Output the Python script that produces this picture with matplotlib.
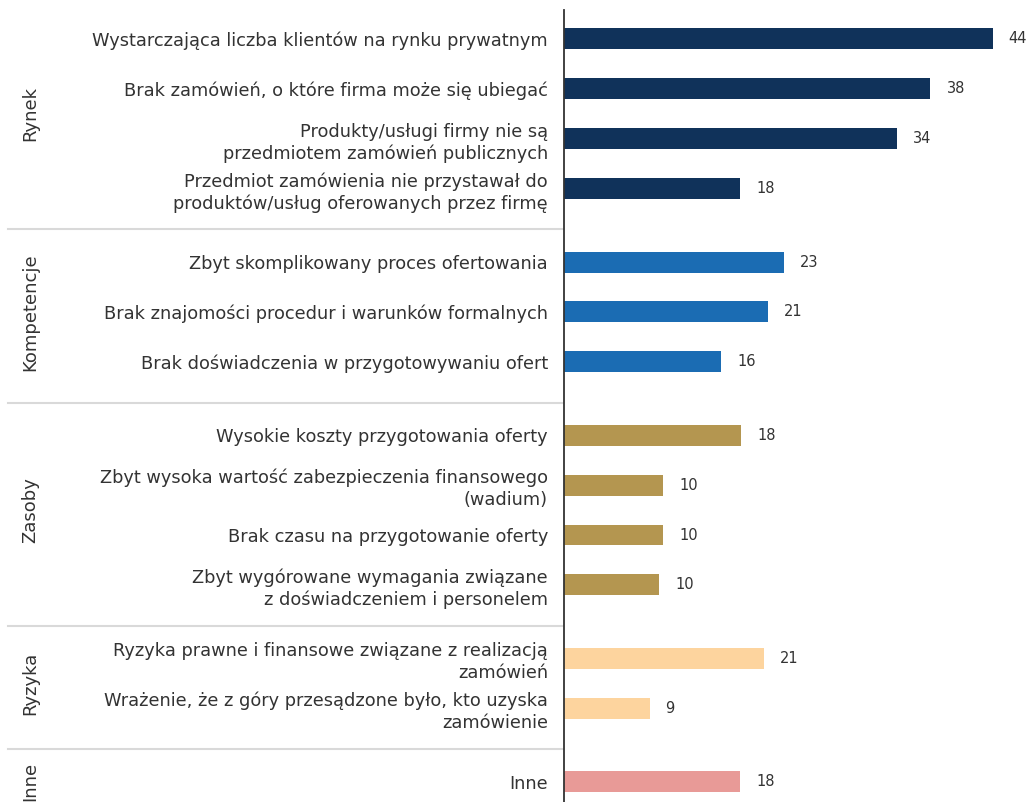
import matplotlib
matplotlib.use("Agg")
import matplotlib.pyplot as plt
from matplotlib.transforms import blended_transform_factory

plt.rcParams['font.family'] = ['DejaVu Sans']

# dane
groups = ["Rynek", "Kompetencje", "Zasoby", "Ryzyka", "Inne"]
group_sizes = [4, 3, 4, 2, 1]
categories = [
    "Wystarczająca liczba klientów na rynku prywatnym",
    "Brak zamówień, o które firma może się ubiegać",
    "Produkty/usługi firmy nie są\nprzedmiotem zamówień publicznych",
    "Przedmiot zamówienia nie przystawał do\nproduktów/usług oferowanych przez firmę",
    "Zbyt skomplikowany proces ofertowania",
    "Brak znajomości procedur i warunków formalnych",
    "Brak doświadczenia w przygotowywaniu ofert",
    "Wysokie koszty przygotowania oferty",
    "Zbyt wysoka wartość zabezpieczenia finansowego\n(wadium)",
    "Brak czasu na przygotowanie oferty",
    "Zbyt wygórowane wymagania związane\nz doświadczeniem i personelem",
    "Ryzyka prawne i finansowe związane z realizacją\nzamówień",
    "Wrażenie, że z góry przesądzone było, kto uzyska\nzamówienie",
    "Inne",
]
values = [44.1, 37.7, 34.3, 18.1, 22.6, 21.0, 16.2, 18.2, 10.2, 10.2, 9.8, 20.6, 8.8, 18.1]
group_colors = ["#10325a", "#1b6cb3", "#b49650", "#fdd49e", "#e89a97"]

W, H = 1028, 802
fig = plt.figure(figsize=(W / 100, H / 100), dpi=100)
ax = fig.add_axes([564 / W, 0, 1 - 564 / W, 1 - 10 / H])

gap = 0.47
ypos, colors, group_y, seps = [], [], [], []
i = 0
for g, n in enumerate(group_sizes):
    start = i + g * gap
    ys = [start + k for k in range(n)]
    ypos += ys
    colors += [group_colors[g]] * n
    group_y.append(sum(ys) / n)
    if g > 0:
        seps.append(start - (1 + gap) / 2 + 0.08)
    i += n

ax.barh(ypos, values, height=0.42, color=colors)
for y, v in zip(ypos, values):
    ax.text(v + 1.65, y, f"{round(v)}", va="center", ha="left",
            fontsize=10.5, color="#333333")

ax.set_ylim(15.29, -0.58)
ax.set_xlim(0, (W - 564) / 9.72)
ax.set_yticks(ypos)
ax.set_yticklabels(categories, fontsize=12.8, color="#333333", linespacing=1.27)
ax.tick_params(axis="y", length=0, pad=11.5)
ax.set_xticks([])
for s in ["top", "right", "bottom"]:
    ax.spines[s].set_visible(False)
ax.spines["left"].set_color("#333333")
ax.spines["left"].set_linewidth(1.3)

tr = blended_transform_factory(fig.transFigure, ax.transData)
for s in seps:
    ax.plot([8 / W, 563 / W], [s, s], transform=tr, color="#d9d9d9",
            lw=1.5, clip_on=False)
for name, y in zip(groups, group_y):
    ax.text(30 / W, y, name, transform=tr, rotation=90, ha="center",
            va="center", fontsize=13, color="#333333", clip_on=False)

fig.savefig("out.png", dpi=100)
